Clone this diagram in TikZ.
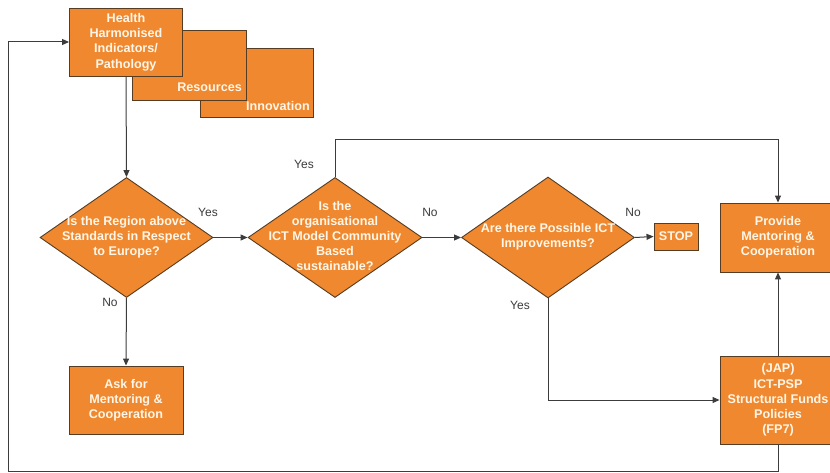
\documentclass[tikz,border=0pt]{standalone}
\usepackage{fontspec}
\setmainfont{Liberation Sans}
\usetikzlibrary{shapes.geometric,arrows.meta}
\definecolor{orfill}{RGB}{239,136,46}
\definecolor{orline}{RGB}{85,60,35}
\definecolor{txtc}{RGB}{255,246,232}
\definecolor{linegray}{RGB}{60,60,60}
\begin{document}
\begin{tikzpicture}[x=1pt,y=-1pt,
  box/.style={draw=orline, fill=orfill, line width=0.9pt, inner sep=0pt, text=txtc,
    font=\fontsize{12.6}{15.2}\selectfont\bfseries, align=center},
  dia/.style={diamond, draw=orline, fill=orfill, line width=0.9pt, inner sep=0pt},
  lab/.style={text=txtc, font=\fontsize{12.6}{15.2}\selectfont\bfseries, align=center, inner sep=0pt},
  ans/.style={text=linegray, font=\fontsize{12}{14}\selectfont, inner sep=0pt},
  conn/.style={draw=linegray, line width=1pt},
  arr/.style={conn, -{Triangle[length=7pt,width=6pt]}, color=linegray}
]
\clip (0,0) rectangle (830,473);
\fill[white] (0,0) rectangle (830,473);

% stacked boxes
\node[box, minimum width=113, minimum height=69] (innov) at (256.5,83) {};
\node[lab, anchor=east] (innovt) at (310,106) {Innovation};
\node[box, minimum width=114, minimum height=70] (res) at (189,65) {};
\node[lab, anchor=east] (rest) at (242,87) {Resources};
\node[box, minimum width=113, minimum height=68] (health) at (126,42) {Health\\Harmonised\\Indicators/\\Pathology};

% diamonds
\node[dia, minimum width=173, minimum height=120] (d1) at (126.5,237.5) {};
\node[lab] (d1t) at (126.5,237) {Is the Region above\\Standards in Respect\\to Europe?};
\node[dia, minimum width=174, minimum height=120] (d2) at (335,237.5) {};
\node[lab] (d2t) at (335,236) {Is the\\organisational\\ICT Model Community\\Based\\sustainable?};
\node[dia, minimum width=173, minimum height=121] (d3) at (548,237.5) {};
\node[lab] (d3t) at (548,237) {Are there Possible ICT\\Improvements?};

% boxes
\node[box, minimum width=44, minimum height=27] (stop) at (676,236.5) {STOP};
\node[box, minimum width=116, minimum height=69] (provide) at (778,237.5) {Provide\\Mentoring \&\\Cooperation};
\node[box, minimum width=116, minimum height=88] (jap) at (778,400) {(JAP)\\ICT-PSP\\Structural Funds\\Policies\\(FP7)};
\node[box, minimum width=114, minimum height=68] (ask) at (126,400) {Ask for\\Mentoring \&\\Cooperation};

% connectors
\coordinate (loopL) at (8,471);
\draw[arr] (health.south) -- (d1.north);
\draw[arr] (d1.east) -- (d2.west);
\draw[arr] (d2.east) -- (d3.west);
\draw[arr] (d3.east) -- (stop.west);
\draw[arr] (d1.south) -- (ask.north);
\draw[arr] (d2.north) -- ++(0,-37.5) -| (provide.north);
\draw[arr] (d3.south) |- (jap.west);
\draw[arr] (jap.north) -- (provide.south);
\draw[arr] (jap.south) |- (loopL) |- (health.west);

% answer labels
\node[ans] (y1) at (208,212) {Yes};
\node[ans] (n1) at (110,302) {No};
\node[ans] (y2) at (304,164) {Yes};
\node[ans] (n2) at (430,212) {No};
\node[ans] (n3) at (633,212) {No};
\node[ans] (y3) at (520,305) {Yes};
\end{tikzpicture}
\end{document}
